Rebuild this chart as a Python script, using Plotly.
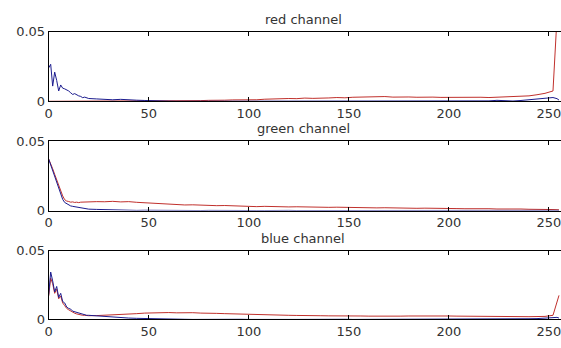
import plotly.graph_objects as go

# histogram bins (intensity levels) at which values were read
bins = list(range(20)) + list(range(20, 253, 4)) + [254, 255]

titles = ["red channel", "green channel", "blue channel"]
x_ticks = [0, 50, 100, 150, 200, 250]
y_ticks = [0, 0.05]
y_tick_text = ["0", "0.05"]

red_r = [0.0001, 0.0001, 0.0001, 0.0002, 0.0001, 0.0001, 0.0002, 0.0001, 0.0001, 0.0001,
         0.0002, 0.0001, 0.0001, 0.0001, 0.0002, 0.0001, 0.0001, 0.0002, 0.0001, 0.0001,
         0.0002, 0.0001, 0.0002, 0.0002, 0.0001, 0.0002, 0.0002, 0.0003, 0.0002, 0.0003,
         0.0003, 0.0004, 0.0003, 0.0005, 0.0006, 0.0008, 0.0007, 0.0009, 0.0011, 0.0010,
         0.0013, 0.0012, 0.0016, 0.0019, 0.0017, 0.0021, 0.0020, 0.0024, 0.0022, 0.0026,
         0.0025, 0.0028, 0.0026, 0.0030, 0.0032, 0.0029, 0.0033, 0.0035, 0.0031, 0.0034,
         0.0032, 0.0030, 0.0033, 0.0031, 0.0029, 0.0030, 0.0028, 0.0031, 0.0029, 0.0030,
         0.0028, 0.0031, 0.0030, 0.0032, 0.0035, 0.0040, 0.0048, 0.0058, 0.0075,
         0.0600, 0.0600]
blue_r = [0.0240, 0.0266, 0.0110, 0.0210, 0.0150, 0.0075, 0.0118, 0.0095, 0.0090, 0.0084,
          0.0075, 0.0062, 0.0050, 0.0056, 0.0045, 0.0040, 0.0036, 0.0027, 0.0031, 0.0024,
          0.0021, 0.0018, 0.0014, 0.0012, 0.0015, 0.0010, 0.0009, 0.0007, 0.0004, 0.0003,
          0.0002, 0.0001, 0.0001, 0.0002, 0.0001, 0.0000, 0.0001, 0.0001, 0.0000, 0.0001,
          0.0000, 0.0001, 0.0000, 0.0000, 0.0001, 0.0000, 0.0000, 0.0001, 0.0000, 0.0000,
          0.0001, 0.0000, 0.0000, 0.0001, 0.0000, 0.0000, 0.0001, 0.0000, 0.0000, 0.0001,
          0.0000, 0.0002, 0.0000, 0.0001, 0.0000, 0.0003, 0.0001, 0.0000, 0.0002, 0.0001,
          0.0004, 0.0008, 0.0005, 0.0003, 0.0007, 0.0012, 0.0016, 0.0022, 0.0028,
          0.0020, 0.0010]

red_g = [0.0370, 0.0340, 0.0300, 0.0260, 0.0220, 0.0180, 0.0140, 0.0105, 0.0078, 0.0068,
         0.0065, 0.0060, 0.0062, 0.0058, 0.0060, 0.0057, 0.0060, 0.0061, 0.0058, 0.0060,
         0.0062, 0.0064, 0.0063, 0.0066, 0.0062, 0.0064, 0.0059, 0.0056, 0.0050, 0.0047,
         0.0045, 0.0042, 0.0040, 0.0041, 0.0038, 0.0037, 0.0035, 0.0036, 0.0033, 0.0034,
         0.0032, 0.0028, 0.0030, 0.0027, 0.0029, 0.0026, 0.0027, 0.0025, 0.0026, 0.0024,
         0.0023, 0.0024, 0.0022, 0.0021, 0.0022, 0.0020, 0.0019, 0.0020, 0.0018, 0.0019,
         0.0017, 0.0016, 0.0017, 0.0015, 0.0016, 0.0015, 0.0014, 0.0013, 0.0014, 0.0012,
         0.0013, 0.0011, 0.0012, 0.0010, 0.0011, 0.0009, 0.0010, 0.0008, 0.0007,
         0.0006, 0.0005]
blue_g = [0.0370, 0.0330, 0.0290, 0.0250, 0.0205, 0.0165, 0.0120, 0.0080, 0.0058, 0.0048,
          0.0038, 0.0033, 0.0030, 0.0027, 0.0024, 0.0020, 0.0017, 0.0015, 0.0014, 0.0012,
          0.0010, 0.0008, 0.0006, 0.0004, 0.0003, 0.0002, 0.0001, 0.0002, 0.0001, 0.0000,
          0.0001, 0.0000, 0.0001, 0.0000, 0.0000, 0.0001, 0.0000, 0.0000, 0.0001, 0.0000,
          0.0001, 0.0000, 0.0000, 0.0002, 0.0000, 0.0001, 0.0000, 0.0000, 0.0002, 0.0000,
          0.0001, 0.0000, 0.0002, 0.0000, 0.0001, 0.0000, 0.0000, 0.0002, 0.0000, 0.0001,
          0.0002, 0.0000, 0.0003, 0.0001, 0.0000, 0.0002, 0.0001, 0.0003, 0.0002, 0.0001,
          0.0003, 0.0002, 0.0003, 0.0001, 0.0002, 0.0003, 0.0004, 0.0002, 0.0003,
          0.0002, 0.0001]

red_b = [0.0170, 0.0300, 0.0260, 0.0190, 0.0220, 0.0150, 0.0170, 0.0120, 0.0100, 0.0080,
         0.0070, 0.0060, 0.0050, 0.0045, 0.0040, 0.0035, 0.0033, 0.0030, 0.0030, 0.0028,
         0.0027, 0.0028, 0.0030, 0.0033, 0.0036, 0.0040, 0.0042, 0.0046, 0.0048, 0.0047,
         0.0050, 0.0048, 0.0050, 0.0049, 0.0046, 0.0047, 0.0044, 0.0042, 0.0040, 0.0038,
         0.0035, 0.0034, 0.0033, 0.0031, 0.0032, 0.0030, 0.0029, 0.0030, 0.0028, 0.0027,
         0.0026, 0.0027, 0.0025, 0.0024, 0.0025, 0.0024, 0.0023, 0.0024, 0.0025, 0.0024,
         0.0025, 0.0026, 0.0024, 0.0025, 0.0026, 0.0025, 0.0024, 0.0023, 0.0024, 0.0022,
         0.0023, 0.0021, 0.0022, 0.0020, 0.0021, 0.0020, 0.0021, 0.0022, 0.0030,
         0.0120, 0.0175]
blue_b = [0.0180, 0.0345, 0.0280, 0.0200, 0.0240, 0.0160, 0.0190, 0.0130, 0.0120, 0.0090,
          0.0080, 0.0075, 0.0060, 0.0055, 0.0050, 0.0045, 0.0040, 0.0038, 0.0035, 0.0030,
          0.0030, 0.0025, 0.0020, 0.0016, 0.0012, 0.0010, 0.0008, 0.0006, 0.0004, 0.0002,
          0.0002, 0.0001, 0.0001, 0.0000, 0.0001, 0.0000, 0.0001, 0.0000, 0.0000, 0.0001,
          0.0000, 0.0001, 0.0000, 0.0000, 0.0001, 0.0000, 0.0000, 0.0001, 0.0000, 0.0001,
          0.0000, 0.0000, 0.0001, 0.0000, 0.0000, 0.0001, 0.0000, 0.0001, 0.0000, 0.0000,
          0.0001, 0.0002, 0.0001, 0.0003, 0.0002, 0.0001, 0.0003, 0.0002, 0.0001, 0.0003,
          0.0002, 0.0003, 0.0002, 0.0004, 0.0003, 0.0005, 0.0006, 0.0008, 0.0012,
          0.0015, 0.0010]

red_series = [red_r, red_g, red_b]
blue_series = [blue_r, blue_g, blue_b]

W, H = 561, 348
RED = "#c0302c"
BLUE = "#1c1c8e"
FONT = "DejaVu Sans"

# pixel positions of the three axes boxes (top, bottom)
boxes = [(25.7, 98.7), (140.0, 212.7), (254.7, 326.5)]
x_left, x_right = 45.0, 561.0

fig = go.Figure()
layout = dict(
    width=W, height=H,
    margin=dict(l=0, r=0, t=0, b=0),
    paper_bgcolor="white", plot_bgcolor="white",
    showlegend=False,
    annotations=[],
)

for i in range(3):
    sfx = "" if i == 0 else str(i + 1)
    xa, ya = "x" + sfx, "y" + sfx
    fig.add_trace(go.Scatter(x=bins, y=red_series[i], mode="lines",
                             line=dict(color=RED, width=1), xaxis=xa, yaxis=ya))
    fig.add_trace(go.Scatter(x=bins, y=blue_series[i], mode="lines",
                             line=dict(color=BLUE, width=1), xaxis=xa, yaxis=ya))
    top, bot = boxes[i]
    layout["xaxis" + sfx] = dict(
        domain=[x_left / W, x_right / W], anchor=ya, range=[0, 256],
        tickvals=x_ticks, ticks="inside", ticklen=4, tickcolor="black",
        showline=True, linecolor="black", linewidth=1, mirror="ticks",
        showgrid=False, zeroline=False, ticklabeloverflow="allow",
        tickfont=dict(family=FONT, size=13, color="#333333"),
    )
    layout["yaxis" + sfx] = dict(
        domain=[1 - bot / H, 1 - top / H], anchor=xa, range=[0, 0.05],
        tickvals=y_ticks, ticktext=y_tick_text, ticks="inside", ticklen=4,
        tickcolor="black", showline=True, linecolor="black", linewidth=1,
        showgrid=False, zeroline=False, ticklabeloverflow="allow",
        tickfont=dict(family=FONT, size=13, color="#333333"),
    )
    layout["annotations"].append(dict(
        text=titles[i], x=(x_left + 558) / 2 / W, y=1 - (top - 13) / H,
        xref="paper", yref="paper", xanchor="center", yanchor="middle",
        showarrow=False, font=dict(family=FONT, size=13, color="#333333"),
    ))

fig.update_layout(**layout)
fig.write_html("out.html")
